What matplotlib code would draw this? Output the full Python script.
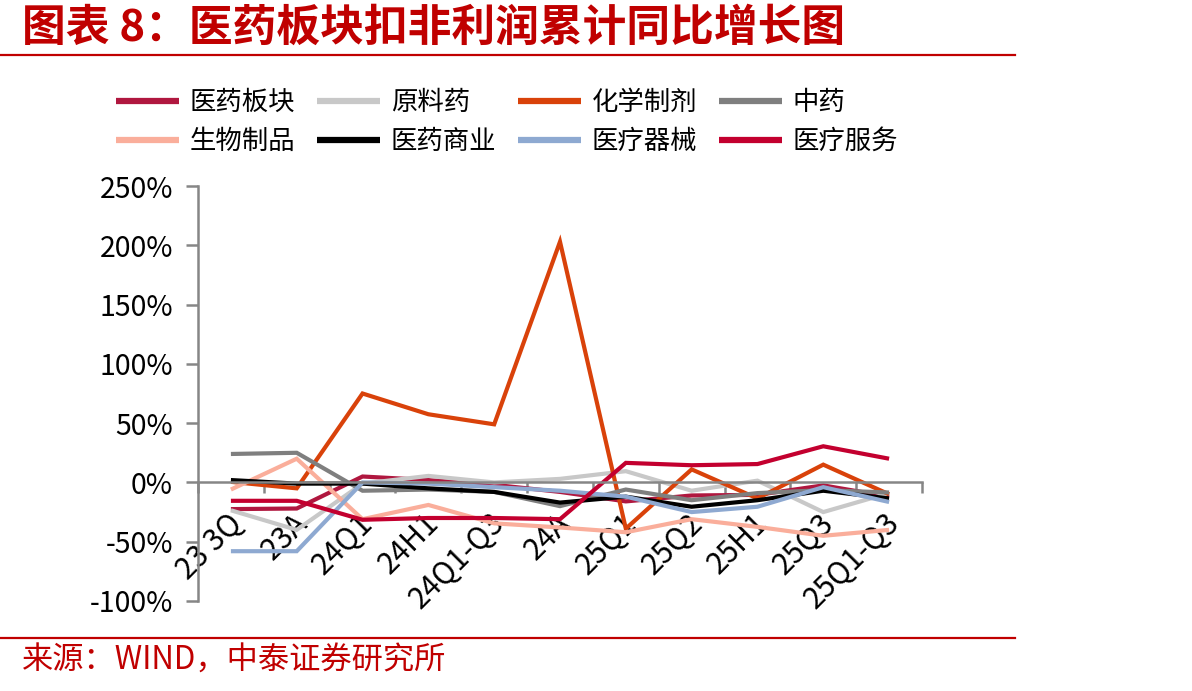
import matplotlib
matplotlib.use("Agg")
import matplotlib.pyplot as plt
import matplotlib.transforms as mtransforms
from matplotlib.ticker import PercentFormatter, FixedLocator

plt.rcParams['font.family'] = ['Noto Sans CJK SC', 'DejaVu Sans']
plt.rcParams['axes.unicode_minus'] = False

categories = ['23 3Q', '23A', '24Q1', '24H1', '24Q1-Q3', '24A', '25Q1', '25Q2', '25H1', '25Q3', '25Q1-Q3']

yiyao_bankuai = [-22.5, -22, 5, 2, -2, -8, -16, -11, -10.5, -2.5, -12]
yuanliaoyao = [-23.5, -40, -1, 5.5, 0, 3, 9.5, -7, 1.5, -25, -9]
huaxue_zhiji = [0.5, -5, 75, 57.5, 49, 203, -39, 11, -13.5, 15, -10]
zhongyao = [24, 25, -7, -6, -8, -20, -6, -15, -9, -6.5, -8.5]
shengwu_zhipin = [-6, 20, -31, -19, -34.5, -38, -42, -31, -37.5, -45, -40]
yiyao_shangye = [2, -1, -1, -5, -8, -17, -12, -20.5, -15, -7, -13.5]
yiliao_qixie = [-58, -58, 0, -1, -4, -7, -12, -25, -20.5, -4, -16.5]
yiliao_fuwu = [-15.5, -15.5, -31.5, -30, -30, -31, 16.5, 14.5, 15.5, 30.5, 20]

series_names = ['医药板块', '原料药', '化学制剂', '中药', '生物制品', '医药商业', '医疗器械', '医疗服务']
series_values = [yiyao_bankuai, yuanliaoyao, huaxue_zhiji, zhongyao,
                 shengwu_zhipin, yiyao_shangye, yiliao_qixie, yiliao_fuwu]
series_colors = ['#B0173F', '#C8C8C8', '#D9420A', '#7F7F7F',
                 '#FAAE9B', '#000000', '#8EA9D1', '#C3002F']

y_ticks = [-100, -50, 0, 50, 100, 150, 200, 250]

W, H = 1192, 691
fig = plt.figure(figsize=(W / 100, H / 100), dpi=100)
fig.patch.set_facecolor('white')

ax_l, ax_r, ax_t, ax_b = 198, 922, 186, 601
ax = fig.add_axes([ax_l / W, 1 - ax_b / H, (ax_r - ax_l) / W, (ax_b - ax_t) / H])

x = list(range(len(categories)))
lines = []
for name, vals, col in zip(series_names, series_values, series_colors):
    ln, = ax.plot(x, vals, color=col, lw=3.0, label=name, solid_joinstyle='miter',
                  solid_capstyle='butt')
    lines.append(ln)

ax.set_xlim(-0.5, len(categories) - 0.5)
ax.set_ylim(-100, 250)

axis_col = '#868686'
for s in ['top', 'right']:
    ax.spines[s].set_visible(False)
ax.spines['left'].set_color(axis_col)
ax.spines['left'].set_linewidth(1.8)
ax.spines['bottom'].set_position(('data', 0))
ax.spines['bottom'].set_color(axis_col)
ax.spines['bottom'].set_linewidth(1.8)
ax.set_axisbelow(True)

ax.yaxis.set_major_locator(FixedLocator(y_ticks))
ax.yaxis.set_major_formatter(PercentFormatter(xmax=100, decimals=0))
ax.tick_params(axis='y', direction='out', length=9, width=1.8, color=axis_col,
               labelsize=20.5, pad=9, labelcolor='black')

ax.set_xticks(x)
ax.set_xticklabels(categories)
ax.set_xticks([i - 0.5 for i in range(len(categories) + 1)], minor=True)
ax.tick_params(axis='x', which='major', length=0, labelsize=21.5, pad=18, labelcolor='black')
ax.tick_params(axis='x', which='minor', direction='out', length=8, width=1.8, color=axis_col)
offset = mtransforms.ScaledTranslation(-0.05, 0, fig.dpi_scale_trans)
for lab in ax.get_xticklabels():
    lab.set_rotation(45)
    lab.set_ha('right')
    lab.set_va('top')
    lab.set_rotation_mode('anchor')
    lab.set_transform(lab.get_transform() + offset)

# legend filled row-wise (4 columns x 2 rows)
ncol = 4
nrow = 2
order = [r * ncol + c for c in range(ncol) for r in range(nrow)]
fig.legend(handles=[lines[i] for i in order], labels=[series_names[i] for i in order],
           loc='upper left', bbox_to_anchor=(116 / W, 1 - 89 / H), ncol=ncol, frameon=False,
           fontsize=19, handlelength=2.4, handletextpad=0.4, columnspacing=0.82,
           labelspacing=0.45, borderpad=0, borderaxespad=0)
for lg in fig.legends:
    for h in lg.legend_handles:
        h.set_linewidth(4.5)

red = '#C00000'
fig.text(22 / W, 1 - 28 / H, '图表 8：医药板块扣非利润累计同比增长图', color=red,
         fontsize=31.5, fontweight='bold', fontstyle='italic', va='center', ha='left')
fig.add_artist(plt.Line2D([0, 1015 / W], [1 - 55 / H, 1 - 55 / H], color=red, lw=1.6))
fig.add_artist(plt.Line2D([0, 1015 / W], [1 - 638 / H, 1 - 638 / H], color=red, lw=1.6))
fig.text(22 / W, 1 - 661 / H, '来源：WIND，中泰证券研究所', color=red,
         fontsize=22.5, va='center', ha='left')

fig.savefig('out.png', dpi=100, facecolor='white')
